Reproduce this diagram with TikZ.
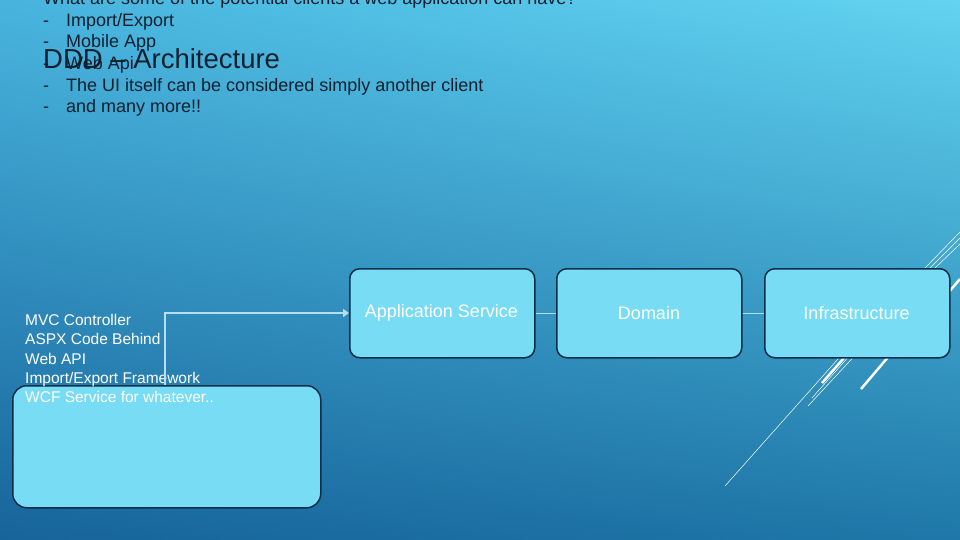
\documentclass[tikz,border=0pt]{standalone}
\usepackage{fontspec}
\setmainfont{Liberation Sans}
\usetikzlibrary{arrows.meta,shadings}
\definecolor{bgtr}{HTML}{62D3F0}
\definecolor{bgtl}{HTML}{48B4DE}
\definecolor{bgbl}{HTML}{17649A}
\definecolor{bgbr}{HTML}{1E77A8}
\definecolor{boxfill}{HTML}{77DCF4}
\definecolor{boxline}{HTML}{0B2E4A}
\definecolor{conn}{HTML}{B8DDEE}
\definecolor{txt}{HTML}{10202E}
\tikzset{
  layer/.style={draw=boxline, line width=1.5pt, fill=boxfill, rounded corners=10pt, minimum width=185pt, minimum height=89pt, anchor=north west},
  ltext/.style={text=white, font=\fontsize{18}{21}\selectfont},
  link/.style={draw=conn, line width=0.8pt},
  deco/.style={draw=white, line width=2.5pt},
  decothin/.style={draw=white, line width=0.5pt},
}
\begin{document}
\begin{tikzpicture}[x=1pt,y=-1pt]
\shade[upper left=bgtl, upper right=bgtr, lower left=bgbl, lower right=bgbr] (0,0) rectangle (960,540);
\useasboundingbox (0,0) rectangle (960,540);
% decorations
\draw[deco] (822,383) -- (857,343);
\draw[deco] (861,389) -- (889,356);
\draw[decothin] (725,486) -- (862,332);
\draw[decothin] (808,406) -- (860,350);
\draw[decothin] (812,398) -- (858,346);
\draw[deco] (948,293) -- (960,279);
\draw[decothin] (925,268) -- (960,232);
\draw[decothin] (930,268) -- (960,238);
\draw[decothin] (935,268) -- (960,244);
% text
\node[anchor=base west, text=txt, font=\fontsize{27.5}{32}\selectfont, inner sep=0] (title) at (43,69) {DDD -- Architecture};
\node[anchor=base west, text=txt, font=\fontsize{18}{21.7}\selectfont, inner sep=0, align=left] (list) at (43,113) {What are some of the potential clients a web application can have?\\
-\hspace{17pt}Import/Export\\
-\hspace{17pt}Mobile App\\
-\hspace{17pt}Web Api\\
-\hspace{17pt}The UI itself can be considered simply another client\\
-\hspace{17pt}and many more!!};
% boxes
\node[layer] (app) at (349,268) {};
\node[ltext] (appt) at (441.5,313) {Application Service};
\node[layer] (dom) at (556,268) {};
\node[ltext] (domt) at (649,313) {Domain};
\node[layer] (inf) at (764,268) {};
\node[ltext] (inft) at (856.5,313) {Infrastructure};
\node[layer, minimum width=308pt, minimum height=122pt, rounded corners=14pt] (cli) at (12,385) {};
\node[anchor=base west, text=white, font=\fontsize{15.5}{19.25}\selectfont, align=left, inner sep=0] (clit) at (25,402.5) {MVC Controller\\ASPX Code Behind\\Web API\\Import/Export Framework\\WCF Service for whatever..};
% connectors
\draw[link] (app.east |- appt) -- (dom.west |- appt);
\draw[link] (dom.east |- domt) -- (inf.west |- domt);
\coordinate (bend) at (165,313);
\draw[draw=conn, line width=2.5pt, -{Triangle[length=6pt,width=8pt]}] (cli.north -| bend) -- (bend) -- (app.west |- bend);
\end{tikzpicture}
\end{document}
